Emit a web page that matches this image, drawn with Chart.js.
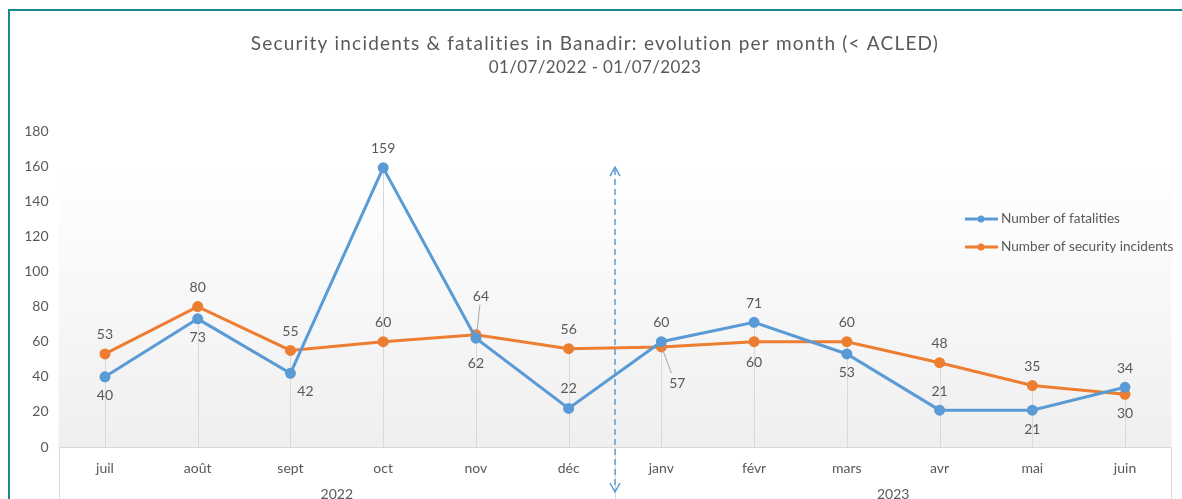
<!DOCTYPE html>
<html>
<head>
<meta charset="utf-8">
<style>
  html, body { margin: 0; padding: 0; background: #fff; }
  #wrap { width: 1182px; height: 499px; }
</style>
<script src="https://cdn.jsdelivr.net/npm/chart.js@4/dist/chart.umd.min.js"></script>
</head>
<body>
<div id="wrap"><canvas id="chart" width="1182" height="499"></canvas></div>
<script>
var months = ["juil", "août", "sept", "oct", "nov", "déc", "janv", "févr", "mars", "avr", "mai", "juin"];
var years = ["2022", "2023"];
var fatalities = [40, 73, 42, 159, 62, 22, 60, 71, 53, 21, 21, 34];
var incidents = [53, 80, 55, 60, 64, 56, 57, 60, 60, 48, 35, 30];
var yTicks = [0, 20, 40, 60, 80, 100, 120, 140, 160, 180];

// where each value label sits relative to its point [dx, dy]
var fatalLabelPos = [[0, 19], [0, 19], [15, 18], [0, -19], [0, 25], [0, -20], [0, -19], [0, -19], [0, 19], [0, -19], [0, 19], [0, -19]];
var incidLabelPos = [[0, -19], [0, -19], [0, -19], [0, -19], [5, -38], [0, -19], [16, 37], [0, 21], [0, -19], [0, -19], [0, -19], [0, 19]];

var BLUE = "#5B9BD5";
var ORANGE = "#ED7D31";
var TXT = "#595959";
var FONT = "Lato, 'Open Sans', sans-serif";

var decorPlugin = {
  id: "decor",
  beforeDraw: function(chart) {
    var ctx = chart.ctx, a = chart.chartArea;
    ctx.save();
    var g = ctx.createLinearGradient(0, a.top, 0, a.bottom);
    g.addColorStop(0, "#ffffff");
    g.addColorStop(0.12, "#ffffff");
    g.addColorStop(1, "#efefef");
    ctx.fillStyle = g;
    ctx.fillRect(a.left, a.top, a.right - a.left, a.bottom - a.top);
    ctx.restore();
  },
  beforeDatasetsDraw: function(chart) {
    var ctx = chart.ctx, a = chart.chartArea;
    var xs = chart.scales.x, ys = chart.scales.y;
    ctx.save();
    // drop lines
    ctx.strokeStyle = "#d9d9d9";
    ctx.lineWidth = 1;
    for (var i = 0; i < months.length; i++) {
      var x = Math.round(xs.getPixelForValue(i)) + 0.5;
      var top = ys.getPixelForValue(Math.max(fatalities[i], incidents[i]));
      ctx.beginPath();
      ctx.moveTo(x, top);
      ctx.lineTo(x, a.bottom);
      ctx.stroke();
    }
    // category axis box
    var seps = [xs.getPixelForValue(-0.5), xs.getPixelForValue(5.5), xs.getPixelForValue(11.5)];
    seps.forEach(function(sx) {
      sx = Math.round(sx) + 0.5;
      ctx.beginPath();
      ctx.moveTo(sx, a.bottom);
      ctx.lineTo(sx, chart.height);
      ctx.stroke();
    });
    ctx.beginPath();
    ctx.moveTo(a.left, Math.round(a.bottom) + 0.5);
    ctx.lineTo(a.right, Math.round(a.bottom) + 0.5);
    ctx.stroke();
    // year labels
    ctx.fillStyle = TXT;
    ctx.font = "14px " + FONT;
    ctx.textAlign = "center";
    ctx.textBaseline = "middle";
    ctx.fillText(years[0], (seps[0] + seps[1]) / 2, a.bottom + 47);
    ctx.fillText(years[1], (seps[1] + seps[2]) / 2, a.bottom + 47);
    ctx.restore();
  },
  afterDatasetsDraw: function(chart) {
    var ctx = chart.ctx, a = chart.chartArea;
    var xs = chart.scales.x, ys = chart.scales.y;
    ctx.save();
    // value labels
    ctx.font = "14px " + FONT;
    ctx.fillStyle = TXT;
    ctx.textAlign = "center";
    ctx.textBaseline = "middle";
    [[fatalities, fatalLabelPos], [incidents, incidLabelPos]].forEach(function(s) {
      for (var i = 0; i < s[0].length; i++) {
        var px = xs.getPixelForValue(i), py = ys.getPixelForValue(s[0][i]);
        ctx.fillText(String(s[0][i]), px + s[1][i][0], py + s[1][i][1]);
      }
    });
    // leader lines
    ctx.strokeStyle = "#a6a6a6";
    ctx.lineWidth = 1;
    var p4x = xs.getPixelForValue(4), p4y = ys.getPixelForValue(incidents[4]);
    ctx.beginPath(); ctx.moveTo(p4x + 4, p4y - 30); ctx.lineTo(p4x + 1, p4y - 2); ctx.stroke();
    var p6x = xs.getPixelForValue(6), p6y = ys.getPixelForValue(incidents[6]);
    ctx.beginPath(); ctx.moveTo(p6x + 1, p6y + 2); ctx.lineTo(p6x + 10, p6y + 26); ctx.stroke();

    // dashed double arrow between the two years
    var ax = xs.getPixelForValue(5.5);
    var aTop = ys.getPixelForValue(160) + 1;
    var aBot = chart.height - 7;
    ctx.strokeStyle = BLUE;
    ctx.lineWidth = 1.5;
    ctx.setLineDash([6, 4]);
    ctx.beginPath(); ctx.moveTo(ax, aTop + 2); ctx.lineTo(ax, aBot - 2); ctx.stroke();
    ctx.setLineDash([]);
    ctx.beginPath();
    ctx.moveTo(ax - 5, aTop + 9); ctx.lineTo(ax, aTop); ctx.lineTo(ax + 5, aTop + 9);
    ctx.moveTo(ax - 5, aBot - 9); ctx.lineTo(ax, aBot); ctx.lineTo(ax + 5, aBot - 9);
    ctx.stroke();

    // legend
    var items = [["Number of fatalities", BLUE], ["Number of security incidents", ORANGE]];
    ctx.textAlign = "left";
    ctx.font = "13.6px " + FONT;
    items.forEach(function(it, k) {
      var ly = 219 + k * 28;
      ctx.strokeStyle = it[1];
      ctx.lineWidth = 3;
      ctx.beginPath(); ctx.moveTo(965, ly); ctx.lineTo(998, ly); ctx.stroke();
      ctx.fillStyle = it[1];
      ctx.beginPath(); ctx.arc(981, ly, 3.5, 0, Math.PI * 2); ctx.fill();
      ctx.fillStyle = TXT;
      ctx.fillText(it[0], 1001, ly);
    });

    // titles
    ctx.textAlign = "center";
    ctx.fillStyle = TXT;
    ctx.font = "19px " + FONT;
    ctx.letterSpacing = "1.2px";
    ctx.fillText("Security incidents & fatalities in Banadir: evolution per month (< ACLED)", 595, 44);
    ctx.font = "17px " + FONT;
    ctx.letterSpacing = "0.4px";
    ctx.fillText("01/07/2022 - 01/07/2023", 595, 68);
    ctx.letterSpacing = "0px";

    // outer frame
    ctx.strokeStyle = "#17888f";
    ctx.lineWidth = 2;
    ctx.strokeRect(9, 10, 1200, 520);
    ctx.restore();
  }
};

new Chart(document.getElementById("chart").getContext("2d"), {
  type: "line",
  data: {
    labels: months,
    datasets: [
      {
        label: "Number of fatalities",
        data: fatalities,
        borderColor: BLUE,
        backgroundColor: BLUE,
        borderWidth: 3,
        pointRadius: 4,
        pointHoverRadius: 4,
        tension: 0
      },
      {
        label: "Number of security incidents",
        data: incidents,
        borderColor: ORANGE,
        backgroundColor: ORANGE,
        borderWidth: 3,
        pointRadius: 4,
        pointHoverRadius: 4,
        tension: 0
      }
    ]
  },
  options: {
    responsive: false,
    animation: false,
    layout: { padding: { top: 131, right: 10.6, left: 0, bottom: 0 } },
    plugins: {
      legend: { display: false },
      title: { display: false },
      tooltip: { enabled: false }
    },
    scales: {
      x: {
        offset: true,
        grid: { display: false, offset: true },
        border: { display: false },
        ticks: { color: TXT, font: { family: FONT, size: 14 }, padding: 5, maxRotation: 0 },
        afterFit: function(s) { s.height = 52; }
      },
      y: {
        min: 0,
        max: 180,
        grid: { display: false },
        border: { display: false },
        afterBuildTicks: function(s) { s.ticks = yTicks.map(function(v) { return { value: v }; }); },
        ticks: { color: TXT, font: { family: FONT, size: 14 }, padding: 2 },
        afterFit: function(s) { s.width = 58.6; }
      }
    }
  },
  plugins: [decorPlugin]
});
</script>
</body>
</html>
